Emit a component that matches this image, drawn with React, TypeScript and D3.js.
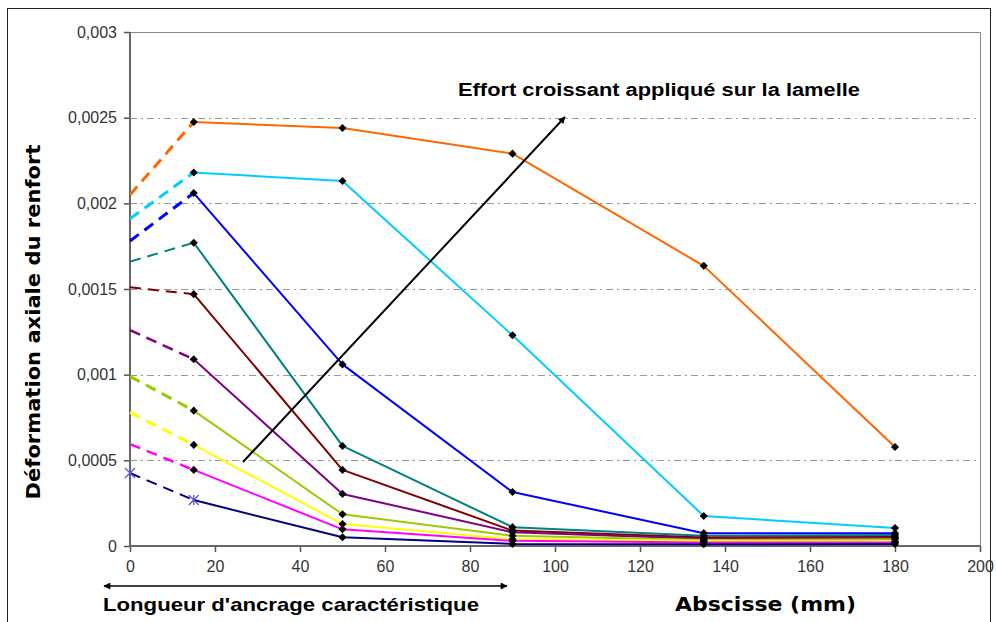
import * as d3 from "d3";
import { useEffect, useRef } from "react";

// abscissa of the measurement points (mm)
const abscissa = [0, 15, 50, 90, 135, 180];

// axial strain of the reinforcement, one array per load step
const orangeSeries = [0.00205, 0.002475, 0.00244, 0.00229, 0.001635, 0.000578];
const skySeries = [0.00191, 0.00218, 0.00213, 0.00123, 0.000175, 0.000105];
const blueSeries = [0.00178, 0.00206, 0.00106, 0.000315, 0.000075, 0.000075];
const tealSeries = [0.00166, 0.00177, 0.000584, 0.00011, 0.00006, 0.000064];
const maroonSeries = [0.00151, 0.00147, 0.000444, 0.00009, 0.00005, 0.000053];
const purpleSeries = [0.00126, 0.00109, 0.000304, 0.00008, 0.000042, 0.000047];
const limeSeries = [0.00099, 0.00079, 0.000185, 0.00006, 0.000035, 0.00004];
const yellowSeries = [0.00078, 0.00059, 0.000128, 0.00004, 0.00003, 0.000025];
const pinkSeries = [0.000595, 0.000444, 0.0000974, 0.00003, 0.00002, 0.00002];
const navySeries = [0.000426, 0.000268, 0.0000508, 0.000012, 0.00001, 0.000012];

const yTicks = [0, 0.0005, 0.001, 0.0015, 0.002, 0.0025, 0.003];
const yTickLabels = ["0", "0,0005", "0,001", "0,0015", "0,002", "0,0025", "0,003"];
const xTicks = [0, 20, 40, 60, 80, 100, 120, 140, 160, 180, 200];

export default function App() {
  const svgRef = useRef<SVGSVGElement>(null);

  useEffect(() => {
    if (!svgRef.current) return;
    const svg = d3.select(svgRef.current);
    svg.selectAll("*").remove();

    const W = 996;
    const H = 622;
    const left = 130;
    const right = 980;
    const top = 32;
    const bottom = 546;

    const series = [
      { values: orangeSeries, color: "#ff6600", dashW: 3 },
      { values: skySeries, color: "#00ccff", dashW: 3 },
      { values: blueSeries, color: "#0000ff", dashW: 3 },
      { values: tealSeries, color: "#008080", dashW: 2 },
      { values: maroonSeries, color: "#800000", dashW: 2 },
      { values: purpleSeries, color: "#800080", dashW: 2.5 },
      { values: limeSeries, color: "#99cc00", dashW: 3 },
      { values: yellowSeries, color: "#ffff00", dashW: 3 },
      { values: pinkSeries, color: "#ff00ff", dashW: 2.5 },
      { values: navySeries, color: "#000080", dashW: 2, star: true },
    ];

    const x = d3.scaleLinear().domain([0, 200]).range([left, right]);
    const y = d3.scaleLinear().domain([0, 0.003]).range([bottom, top]);

    svg.append("rect").attr("width", W).attr("height", H).attr("fill", "#fff");

    // outer frame
    svg
      .append("rect")
      .attr("x", 7.5)
      .attr("y", 8.5)
      .attr("width", 983)
      .attr("height", 640)
      .attr("fill", "none")
      .attr("stroke", "#222")
      .attr("stroke-width", 1);

    // gridlines
    svg
      .append("g")
      .selectAll("line")
      .data(yTicks.slice(1, -1))
      .enter()
      .append("line")
      .attr("x1", left)
      .attr("x2", right)
      .attr("y1", (d) => Math.round(y(d)) + 0.5)
      .attr("y2", (d) => Math.round(y(d)) + 0.5)
      .attr("stroke", "#999")
      .attr("stroke-width", 1)
      .attr("stroke-dasharray", "7,4,2,4");

    // plot border (top, right)
    svg
      .append("path")
      .attr("d", `M${left},${top + 0.5}H${right + 0.5}V${bottom}`)
      .attr("fill", "none")
      .attr("stroke", "#888")
      .attr("stroke-width", 1);

    // y axis
    const yAxis = d3
      .axisLeft(y)
      .tickValues(yTicks)
      .tickSize(6)
      .tickPadding(7)
      .tickFormat((d, i) => yTickLabels[i]);
    const gy = svg.append("g").attr("transform", `translate(${left},0)`).call(yAxis);
    gy.select(".domain").remove();
    gy.selectAll("line").attr("stroke", "#555").attr("stroke-width", 1.5);
    gy.selectAll("text")
      .style("font-family", "'Liberation Sans', Arial, sans-serif")
      .style("font-size", "16px")
      .style("fill", "#333");

    // x axis
    const xAxis = d3.axisBottom(x).tickValues(xTicks).tickSize(6).tickPadding(9);
    const gx = svg.append("g").attr("transform", `translate(0,${bottom})`).call(xAxis);
    gx.select(".domain").remove();
    gx.selectAll("line").attr("stroke", "#555").attr("stroke-width", 1.5);
    gx.selectAll("text")
      .style("font-family", "'Liberation Sans', Arial, sans-serif")
      .style("font-size", "16px")
      .style("fill", "#333");

    // axis lines
    svg
      .append("path")
      .attr("d", `M${left},${top}V${bottom}H${right}`)
      .attr("fill", "none")
      .attr("stroke", "#666")
      .attr("stroke-width", 2);

    const line = d3
      .line<number>()
      .x((d, i) => x(abscissa[i]))
      .y((d) => y(d));

    const lines = svg.append("g");
    series.forEach((s) => {
      // extrapolated part near the origin, dashed
      lines
        .append("path")
        .attr(
          "d",
          d3
            .line<number>()
            .x((d, i) => x(abscissa[i]))
            .y((d) => y(d))(s.values.slice(0, 2))
        )
        .attr("fill", "none")
        .attr("stroke", s.color)
        .attr("stroke-width", s.dashW)
        .attr("stroke-dasharray", "11,7");
      // measured part
      lines
        .append("path")
        .attr(
          "d",
          d3
            .line<number>()
            .x((d, i) => x(abscissa[i + 1]))
            .y((d) => y(d))(s.values.slice(1))
        )
        .attr("fill", "none")
        .attr("stroke", s.color)
        .attr("stroke-width", 2)
        .attr("stroke-linejoin", "round");
    });

    const diamond = d3.symbol().type(d3.symbolDiamond2).size(42);
    const markers = svg.append("g");
    series.forEach((s) => {
      s.values.forEach((v, i) => {
        if (i === 0 && !s.star) return;
        const px = x(abscissa[i]);
        const py = y(v);
        if (s.star && i < 2) {
          const g = markers.append("g").attr("transform", `translate(${px},${py})`);
          [
            [-5, -5, 5, 5],
            [-5, 5, 5, -5],
            [0, -5, 0, 5],
          ].forEach(([a, b, c, e]) => {
            g.append("line")
              .attr("x1", a)
              .attr("y1", b)
              .attr("x2", c)
              .attr("y2", e)
              .attr("stroke", "#5555cc")
              .attr("stroke-width", 1.3);
          });
          return;
        }
        markers
          .append("path")
          .attr("d", diamond()!)
          .attr("transform", `translate(${px},${py})`)
          .attr("fill", "#000");
      });
    });

    // arrow "effort croissant"
    const defs = svg.append("defs");
    defs
      .append("marker")
      .attr("id", "head")
      .attr("viewBox", "0 0 10 10")
      .attr("refX", 9)
      .attr("refY", 5)
      .attr("markerWidth", 6)
      .attr("markerHeight", 6)
      .attr("markerUnits", "userSpaceOnUse")
      .attr("orient", "auto-start-reverse")
      .append("path")
      .attr("d", "M0,0L10,5L0,10Z")
      .attr("fill", "#000");
    defs
      .append("marker")
      .attr("id", "head2")
      .attr("viewBox", "0 0 10 10")
      .attr("refX", 9)
      .attr("refY", 5)
      .attr("markerWidth", 9)
      .attr("markerHeight", 7)
      .attr("markerUnits", "userSpaceOnUse")
      .attr("orient", "auto-start-reverse")
      .append("path")
      .attr("d", "M0,0L10,5L0,10Z")
      .attr("fill", "#000");

    svg
      .append("line")
      .attr("x1", 243)
      .attr("y1", 462)
      .attr("x2", 565)
      .attr("y2", 117)
      .attr("stroke", "#000")
      .attr("stroke-width", 2)
      .attr("marker-end", "url(#head2)");

    svg
      .append("text")
      .attr("x", 458)
      .attr("y", 96)
      .attr("textLength", 402)
      .attr("lengthAdjust", "spacingAndGlyphs")
      .style("font-family", "'Liberation Sans', Arial, sans-serif")
      .style("font-size", "18px")
      .style("font-weight", "bold")
      .text("Effort croissant appliqué sur la lamelle");

    // anchorage length arrow
    svg
      .append("line")
      .attr("x1", 104)
      .attr("y1", 586)
      .attr("x2", 507)
      .attr("y2", 586)
      .attr("stroke", "#000")
      .attr("stroke-width", 1.5)
      .attr("marker-start", "url(#head2)")
      .attr("marker-end", "url(#head2)");

    svg
      .append("text")
      .attr("x", 103)
      .attr("y", 611)
      .attr("textLength", 376)
      .attr("lengthAdjust", "spacingAndGlyphs")
      .style("font-family", "'Liberation Sans', Arial, sans-serif")
      .style("font-size", "19px")
      .style("font-weight", "bold")
      .text("Longueur d'ancrage caractéristique");

    svg
      .append("text")
      .attr("x", 675)
      .attr("y", 611)
      .attr("textLength", 181)
      .attr("lengthAdjust", "spacingAndGlyphs")
      .style("font-family", "'DejaVu Sans', Verdana, sans-serif")
      .style("font-size", "20px")
      .style("font-weight", "bold")
      .text("Abscisse (mm)");

    svg
      .append("text")
      .attr("transform", "translate(40,322) rotate(-90)")
      .attr("text-anchor", "middle")
      .attr("textLength", 355)
      .attr("lengthAdjust", "spacingAndGlyphs")
      .style("font-family", "'DejaVu Sans', Verdana, sans-serif")
      .style("font-size", "19px")
      .style("font-weight", "bold")
      .text("Déformation axiale du renfort");
  }, []);

  return (
    <svg
      ref={svgRef}
      width={996}
      height={622}
      style={{ position: "absolute", left: 0, top: 0, display: "block" }}
    />
  );
}
